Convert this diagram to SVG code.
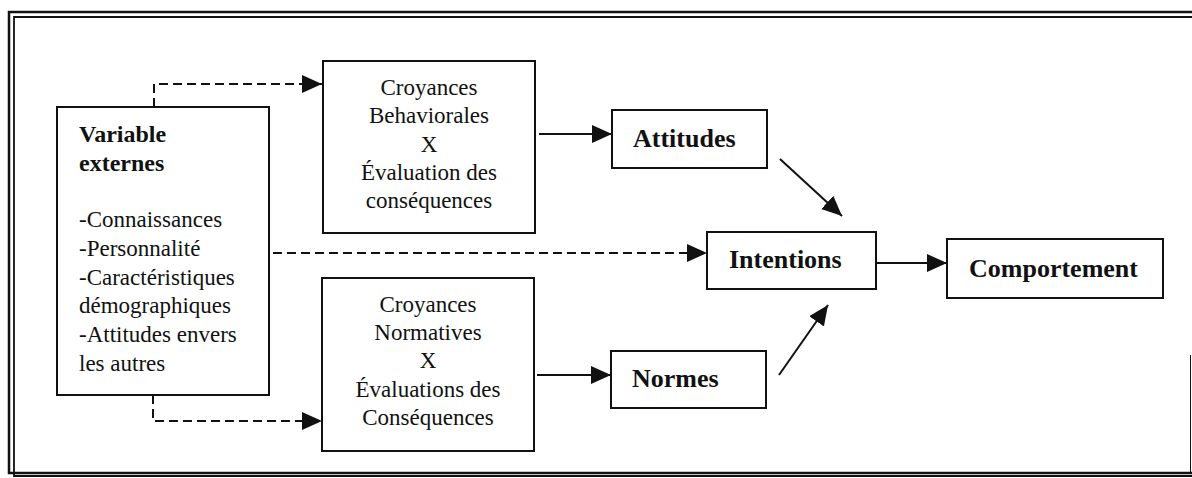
<svg xmlns="http://www.w3.org/2000/svg" width="1192" height="478" viewBox="0 0 1192 478">
<defs>
<style>
.box{fill:#fff;stroke:#111;stroke-width:2}
.t{font-family:"Liberation Serif","Times New Roman",serif;font-size:23px;fill:#111}
.b{font-family:"Liberation Serif","Times New Roman",serif;font-size:26px;font-weight:bold;fill:#111}
.bv{font-family:"Liberation Serif","Times New Roman",serif;font-size:24px;font-weight:bold;fill:#111}
.c{text-anchor:middle}
.solid{fill:none;stroke:#111;stroke-width:2}
.dash{fill:none;stroke:#111;stroke-width:2;stroke-dasharray:9 5}
.frame{fill:none;stroke:#111}
</style>
<marker id="ah" markerUnits="userSpaceOnUse" markerWidth="21" markerHeight="19" refX="20" refY="9" orient="auto">
<path d="M0,0 L20,9 L0,18 z" fill="#111"/>
</marker>
</defs>
<rect width="1192" height="478" fill="#fff"/>
<g id="frame">
<path class="frame" stroke-width="2.5" d="M1192,12 H9 V473 H1192"/>
<path class="frame" stroke-width="1.8" d="M1192,17 H14 V476 H1192"/>
<path class="frame" stroke-width="1" stroke="#aaa" d="M1190.5,355 V474"/>
</g>
<g id="connectors">
<path class="dash" d="M154,107 V84 H322" marker-end="url(#ah)"/>
<path class="dash" d="M153,395 V421 H322" marker-end="url(#ah)"/>
<path class="dash" d="M273,253 H707" marker-end="url(#ah)"/>
<path class="solid" d="M539,134 H612" marker-end="url(#ah)"/>
<path class="solid" d="M537,375 H611" marker-end="url(#ah)"/>
<path class="solid" d="M876,263 H947" marker-end="url(#ah)"/>
<path class="solid" d="M780,159 L842,216" marker-end="url(#ah)"/>
<path class="solid" d="M779,375 L828,305" marker-end="url(#ah)"/>
</g>
<g id="variables">
<rect class="box" x="57" y="107" width="212" height="288"/>
<text class="bv" x="79" y="142">Variable</text>
<text class="bv" x="79" y="171">externes</text>
<text class="t" x="79" y="227">-Connaissances</text>
<text class="t" x="79" y="256">-Personnalité</text>
<text class="t" x="79" y="285">-Caractéristiques</text>
<text class="t" x="79" y="313">démographiques</text>
<text class="t" x="79" y="342">-Attitudes envers</text>
<text class="t" x="79" y="371">les autres</text>
</g>
<g id="croyances-behaviorales">
<rect class="box" x="323" y="61" width="212" height="172"/>
<text class="t c" x="429" y="95">Croyances</text>
<text class="t c" x="429" y="123">Behaviorales</text>
<text class="t c" x="429" y="152">X</text>
<text class="t c" x="429" y="180">Évaluation des</text>
<text class="t c" x="429" y="208">conséquences</text>
</g>
<g id="croyances-normatives">
<rect class="box" x="322" y="278" width="212" height="173"/>
<text class="t c" x="428" y="312">Croyances</text>
<text class="t c" x="428" y="340">Normatives</text>
<text class="t c" x="428" y="368">X</text>
<text class="t c" x="428" y="397">Évaluations des</text>
<text class="t c" x="428" y="425">Conséquences</text>
</g>
<g id="attitudes">
<rect class="box" x="612" y="110" width="155" height="58"/>
<text class="b" x="633" y="147">Attitudes</text>
</g>
<g id="normes">
<rect class="box" x="611" y="351" width="155" height="57"/>
<text class="b" x="632" y="387">Normes</text>
</g>
<g id="intentions">
<rect class="box" x="707" y="232" width="169" height="57"/>
<text class="b" x="729" y="268">Intentions</text>
</g>
<g id="comportement">
<rect class="box" x="947" y="239" width="216" height="59"/>
<text class="b" x="969" y="277">Comportement</text>
</g>
</svg>
